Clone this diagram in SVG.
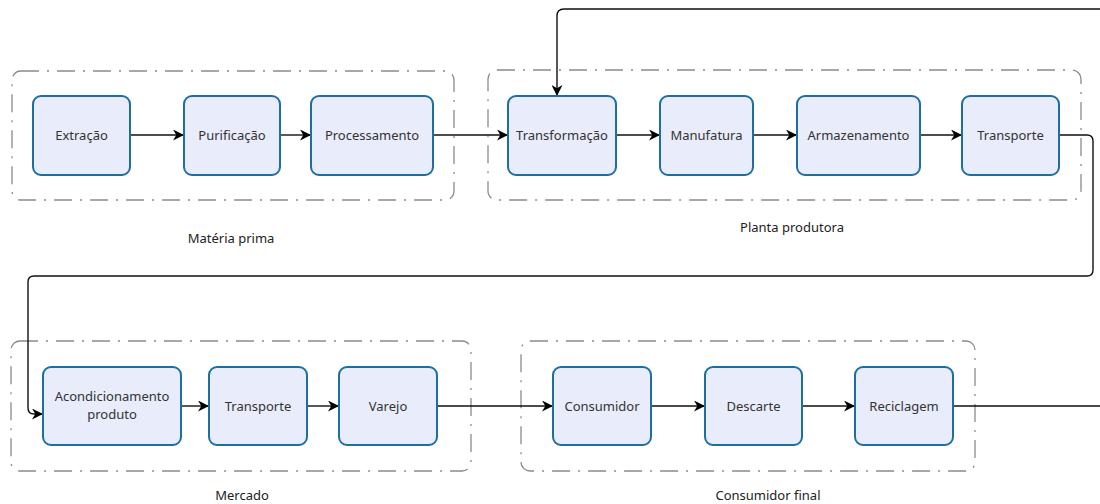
<svg xmlns="http://www.w3.org/2000/svg" width="1100" height="504" viewBox="0 0 1100 504">
<defs>
<style>
.grp{fill:none;stroke:#8a8a8a;stroke-width:1.3;stroke-dasharray:18 8 2 8;}
.box{fill:#e8ecfb;stroke:#1e6f9f;stroke-width:2;}
.t{font-family:"Noto Sans","Open Sans",sans-serif;font-size:13px;fill:#333;text-anchor:middle;}
.lbl{font-family:"Noto Sans","Open Sans",sans-serif;font-size:13px;fill:#222;text-anchor:middle;}
.c{fill:none;stroke:#111;stroke-width:1.4;}
</style>
<marker id="ah" viewBox="0 0 10 10" refX="10" refY="5" markerWidth="11" markerHeight="11" markerUnits="userSpaceOnUse" orient="auto">
<path d="M0,0 L10,5 L0,10 L3,5 Z" fill="#000"/>
</marker>
</defs>
<rect width="1100" height="504" fill="#fff"/>
<g id="groups">
<g id="g-materia"><rect class="grp" x="12" y="71" width="442" height="129" rx="9"/><text class="lbl" x="231" y="243">Matéria prima</text></g>
<g id="g-planta"><rect class="grp" x="488" y="70" width="593" height="130" rx="9"/><text class="lbl" x="792" y="232">Planta produtora</text></g>
<g id="g-mercado"><rect class="grp" x="11" y="341" width="460" height="130" rx="9"/><text class="lbl" x="242" y="500">Mercado</text></g>
<g id="g-consumidor"><rect class="grp" x="521" y="341" width="454" height="130" rx="9"/><text class="lbl" x="768" y="500">Consumidor final</text></g>
</g>
<g id="connectors">
<path class="c" d="M130,135 H184" marker-end="url(#ah)"/>
<path class="c" d="M280,135 H311" marker-end="url(#ah)"/>
<path class="c" d="M433,135 H508" marker-end="url(#ah)"/>
<path class="c" d="M616,135 H660" marker-end="url(#ah)"/>
<path class="c" d="M753,135 H797" marker-end="url(#ah)"/>
<path class="c" d="M920,135 H962" marker-end="url(#ah)"/>
<path class="c" d="M1100,9 H564 Q557,9 557,16 V96" marker-end="url(#ah)"/>
<path class="c" d="M1059,135 H1087 Q1093,135 1093,141 V270 Q1093,276 1087,276 H34 Q28,276 28,282 V408 Q28,414 34,414 H43" marker-end="url(#ah)"/>
<path class="c" d="M181,406 H209" marker-end="url(#ah)"/>
<path class="c" d="M307,406 H339" marker-end="url(#ah)"/>
<path class="c" d="M437,406 H553" marker-end="url(#ah)"/>
<path class="c" d="M651,406 H705" marker-end="url(#ah)"/>
<path class="c" d="M802,406 H855" marker-end="url(#ah)"/>
<path class="c" d="M953,406 H1100"/>
</g>
<g id="n-extracao"><rect class="box" x="33" y="96" width="97" height="79" rx="8"/><text class="t" x="81.5" y="140">Extração</text></g>
<g id="n-purificacao"><rect class="box" x="184" y="96" width="96" height="79" rx="8"/><text class="t" x="232" y="140">Purificação</text></g>
<g id="n-processamento"><rect class="box" x="311" y="96" width="122" height="79" rx="8"/><text class="t" x="372" y="140">Processamento</text></g>
<g id="n-transformacao"><rect class="box" x="508" y="96" width="108" height="79" rx="8"/><text class="t" x="562" y="140">Transformação</text></g>
<g id="n-manufatura"><rect class="box" x="660" y="96" width="93" height="79" rx="8"/><text class="t" x="706.5" y="140">Manufatura</text></g>
<g id="n-armazenamento"><rect class="box" x="797" y="96" width="123" height="79" rx="8"/><text class="t" x="858.5" y="140">Armazenamento</text></g>
<g id="n-transporte1"><rect class="box" x="962" y="96" width="97" height="79" rx="8"/><text class="t" x="1010.5" y="140">Transporte</text></g>
<g id="n-acondicionamento"><rect class="box" x="43" y="367" width="138" height="78" rx="8"/><text class="t" x="112" y="401">Acondicionamento</text><text class="t" x="112" y="419">produto</text></g>
<g id="n-transporte2"><rect class="box" x="209" y="367" width="98" height="78" rx="8"/><text class="t" x="258" y="411">Transporte</text></g>
<g id="n-varejo"><rect class="box" x="339" y="367" width="98" height="78" rx="8"/><text class="t" x="388" y="411">Varejo</text></g>
<g id="n-consumidor"><rect class="box" x="553" y="367" width="98" height="78" rx="8"/><text class="t" x="602" y="411">Consumidor</text></g>
<g id="n-descarte"><rect class="box" x="705" y="367" width="97" height="78" rx="8"/><text class="t" x="753.5" y="411">Descarte</text></g>
<g id="n-reciclagem"><rect class="box" x="855" y="367" width="98" height="78" rx="8"/><text class="t" x="904" y="411">Reciclagem</text></g>
</svg>
